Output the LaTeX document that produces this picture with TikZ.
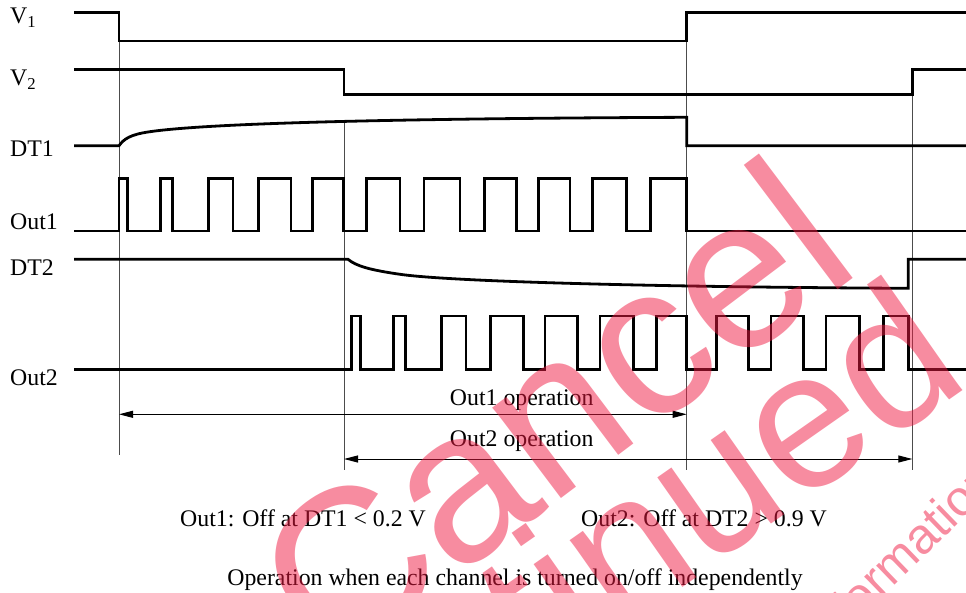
\documentclass[tikz,border=0pt]{standalone}
\usepackage{fontspec}
\setmainfont{Liberation Serif}
\newfontfamily\stampfont{Liberation Sans}
\usetikzlibrary{arrows.meta}
\definecolor{stamppink}{RGB}{239,25,65}
\begin{document}
\begin{tikzpicture}[x=1pt, y=-1pt, font=\fontsize{23.8}{28}\selectfont,
			line join=miter, >={Triangle[length=14pt,width=7pt]},
			sig/.style={line width=2.8pt},
			guide/.style={line width=1pt, black!70},
			lab/.style={anchor=base west, inner sep=0pt},
			stamp/.style={inner sep=0pt, anchor=base west, text=stamppink, text opacity=0.5}]
			\useasboundingbox (0,0) rectangle (966,593);
			\def\xs{74}
			\def\xe{966}
			\path (119,0) coordinate (A)
			(344,0) coordinate (B)
			(686.7,0) coordinate (C)
			(912.3,0) coordinate (D)
			;
			% guide lines
			\draw[guide] (A |- 0,41) -- (A |- 0,455);
			\draw[guide] (B |- 0,120) -- (B |- 0,470);
			\draw[guide] (C |- 0,41) -- (C |- 0,470);
			\draw[guide] (D |- 0,94.3) -- (D |- 0,470);
			% signals
			\draw[sig] (\xs,12.5) -| (A |- 0,41) -| (C |- 0,12.5) -- (\xe,12.5);
			\draw[sig] (\xs,69.7) -| (B |- 0,94.3) -| (D |- 0,69.7) -- (\xe,69.7);
			\draw[sig] (\xs,145.7) -- (A |- 0,145.7)
			.. controls (124,139) and (130,134.5) .. (150,131.7)
			.. controls (210,123) and (400,118.5) .. (C |- 0,117.3)
			-- (C |- 0,145.7) -- (\xe,145.7);
			\draw[sig] (\xs,231) foreach \r/\f in {119/127.7, 160.3/172.3, 208.3/233,
				258.3/291, 312.3/343.7, 366.7/400, 424/460, 484.3/516.7, 538.3/570,
				592.3/626.7, 650.7/686.7}
			{ -- (\r,231) -- (\r,178.3) -- (\f,178.3) -- (\f,231) } -- (\xe,231);
			\draw[sig] (\xs,259.3) -- (348,259.3)
			.. controls (356,266) and (370,270) .. (400,274.3)
			.. controls (450,281.5) and (650,287) .. (908.3,288.3)
			-- (908.3,259.3) -- (\xe,259.3);
			\draw[sig] (\xs,369.5) foreach \r/\f in {351.7/360.7, 393.3/405.7, 441.7/466,
				490.7/523.3, 545/577.3, 600/633.3, 656.7/686.7, 716.7/748.3, 771/803.3,
				826/859.3, 883.3/908.3}
			{ -- (\r,369.5) -- (\r,316) -- (\f,316) -- (\f,369.5) } -- (\xe,369.5);
			% operation spans
			\draw[<->, line width=1pt] (A |- 0,414.3) -- (C |- 0,414.3);
			\draw[<->, line width=1pt] (B |- 0,459) -- (D |- 0,459);
			% labels
			\foreach \n/\y/\t in {v1/24/V\textsubscript{1}, v2/86/V\textsubscript{2},
				dt1/156.7/DT1, out1/230/Out1, dt2/276/DT2, out2/385/Out2}
			\node[lab] (\n) at (10,\y) {\t};
			\node[anchor=base] (op1) at (521.7,405) {Out1 operation};
			\node[anchor=base] (op2) at (521.7,446.7) {Out2 operation};
			\node[anchor=base] (off1) at (303,526) {Out1: Off at DT1 < 0.2 V};
			\node[anchor=base] (off2) at (704,526) {Out2: Off at DT2 > 0.9 V};
			\node[anchor=base] (title) at (515,585)
			{Operation when each channel is turned on/off independently};
			% stamp
			\begin{scope}
				\clip (0,0) rectangle (966,593);
				\node[stamp, rotate=37,
				font=\stampfont\fontsize{215}{215}\selectfont] (cancel) at (330,673) {Cancel};
				\node[stamp, rotate=35,
				font=\stampfont\fontsize{195}{195}\selectfont] (disc) at (50,1030) {Discontinued};
				\node[stamp, rotate=44,
				font=\stampfont\fontsize{50}{50}\selectfont] (info) at (822,655) {information};
			\end{scope}
		\end{tikzpicture}
\end{document}
